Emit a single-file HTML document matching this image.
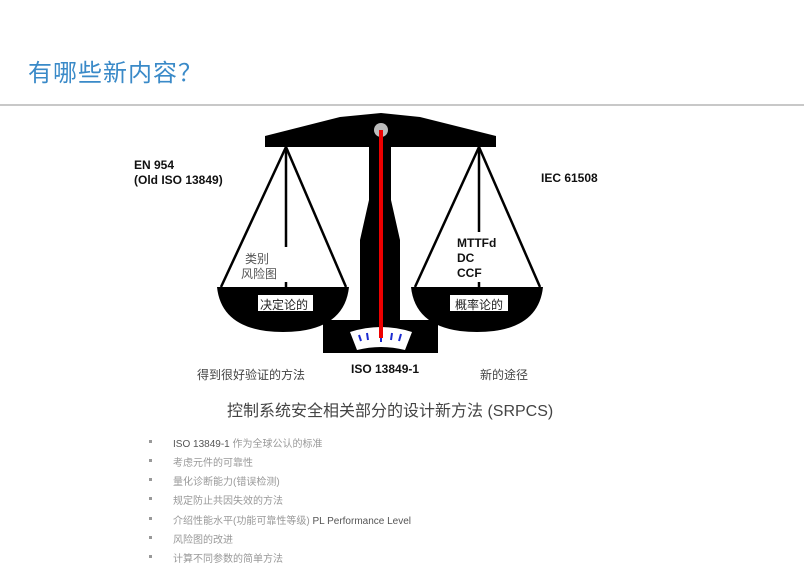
<!DOCTYPE html>
<html><head><meta charset="utf-8"><style>
body{margin:0;width:804px;height:570px;background:#fff;position:relative;overflow:hidden;font-family:"Liberation Sans","Noto Sans CJK SC",sans-serif}
.a{position:absolute;white-space:nowrap}
.b{font-weight:bold;font-size:12px;color:#111}
.g{font-size:12px;color:#444}
.li{position:absolute;left:173px;font-size:10px;color:#999;white-space:nowrap}
.sq{position:absolute;left:149px;width:3px;height:3px;background:#999}
</style></head><body>
<div class="a" style="left:28px;top:53px;font-size:24px;letter-spacing:1px;color:#3a8ac8">有哪些新内容？</div>
<div class="a" style="left:0;top:104px;width:804px;height:2px;background:#c8c8c8"></div>
<svg class="a" style="left:0;top:0" width="804" height="400">
<polygon points="265,136 340,117 381,113 420,117 496,136 496,147 265,147" fill="#000"/>
<polygon points="369,147 391,147 391,200 400,240 400,320 438,320 438,353 323,353 323,320 360,320 360,240 369,200" fill="#000"/>
<path d="M350,332 Q381,322 412,332 L405,350 Q381,344 357,350 Z" fill="#fff"/>
<g stroke="#1a2ad0" stroke-width="2">
<line x1="359" y1="335" x2="361" y2="341"/><line x1="367" y1="333" x2="368" y2="340"/><line x1="381" y1="334" x2="381" y2="342"/><line x1="392" y1="333" x2="391" y2="340"/><line x1="401" y1="334" x2="399" y2="341"/></g>
<circle cx="381" cy="130" r="7" fill="#bbb"/>
<line x1="381" y1="130" x2="381" y2="338" stroke="#e00" stroke-width="4"/>
<g stroke="#000" stroke-width="2.5" fill="none">
<line x1="286" y1="147" x2="221" y2="287"/><line x1="286" y1="147" x2="346" y2="287"/><line x1="286" y1="147" x2="286" y2="247"/><line x1="286" y1="282" x2="286" y2="288"/>
<line x1="479" y1="147" x2="415" y2="287"/><line x1="479" y1="147" x2="540" y2="287"/><line x1="479" y1="147" x2="479" y2="232"/><line x1="479" y1="282" x2="479" y2="288"/>
</g>
<path d="M217,287 L349,287 Q345,325 300,331 Q283,333 266,331 Q221,325 217,287 Z" fill="#000"/>
<path d="M411,287 L543,287 Q539,325 494,331 Q477,333 460,331 Q415,325 411,287 Z" fill="#000"/>
<rect x="258" y="295" width="55" height="16" fill="#fff"/>
<rect x="450" y="295" width="58" height="16" fill="#fff"/>
</svg>
<div class="a g" style="left:260px;top:296px;color:#222">决定论的</div>
<div class="a g" style="left:455px;top:296px;color:#222">概率论的</div>
<div class="a b" style="left:134px;top:158px">EN 954</div>
<div class="a b" style="left:134px;top:173px">(Old ISO 13849)</div>
<div class="a b" style="left:541px;top:171px">IEC 61508</div>
<div class="a g" style="left:245px;top:250px;color:#555">类别</div>
<div class="a g" style="left:241px;top:265px;color:#555">风险图</div>
<div class="a b" style="left:457px;top:236px;line-height:15px">MTTFd<br>DC<br>CCF</div>
<div class="a g" style="left:197px;top:366px">得到很好验证的方法</div>
<div class="a b" style="left:351px;top:362px">ISO 13849-1</div>
<div class="a g" style="left:480px;top:366px">新的途径</div>
<div class="a" style="left:227px;top:397px;font-size:16px;color:#444">控制系统安全相关部分的设计新方法 (SRPCS)</div>
<div class="sq" style="top:440px"></div><div class="li" style="top:435px"><span style="color:#555">ISO 13849-1</span> 作为全球公认的标准</div>
<div class="sq" style="top:459px"></div><div class="li" style="top:454px">考虑元件的可靠性</div>
<div class="sq" style="top:478px"></div><div class="li" style="top:473px">量化诊断能力(错误检测)</div>
<div class="sq" style="top:497px"></div><div class="li" style="top:492px">规定防止共因失效的方法</div>
<div class="sq" style="top:517px"></div><div class="li" style="top:512px">介绍性能水平(功能可靠性等级) <span style="color:#555">PL Performance Level</span></div>
<div class="sq" style="top:536px"></div><div class="li" style="top:531px">风险图的改进</div>
<div class="sq" style="top:555px"></div><div class="li" style="top:550px">计算不同参数的简单方法</div>
</body></html>
